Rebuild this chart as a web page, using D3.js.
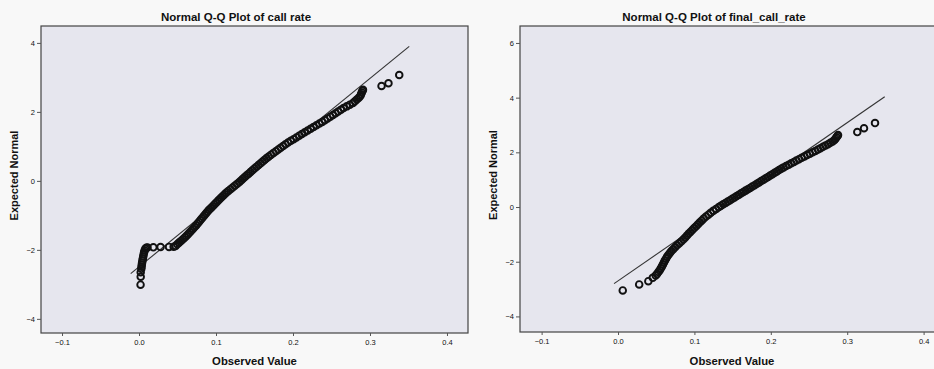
<!DOCTYPE html>
<html>
<head>
<meta charset="utf-8">
<script src="https://cdn.jsdelivr.net/npm/d3@7/dist/d3.min.js"></script>
<style>
  html, body { margin: 0; padding: 0; background: #f8f8f8; }
  svg { display: block; }
  text { font-family: "Liberation Sans", Arial, sans-serif; fill: #111; }
</style>
</head>
<body>
<svg id="chart" width="934" height="369"></svg>
<script>
// ---- Panel 1: call rate ----
const callRateObserved = [
  0.0020, 0.0022, 0.0022,
  0.0030, 0.0033, 0.0036, 0.0040, 0.0045, 0.0050, 0.0055, 0.0060, 0.0066, 0.0073, 0.0082, 0.0095, 0.0110,
  0.0186, 0.0280, 0.0390, 0.0450,
  0.0475, 0.0496, 0.0520, 0.0545, 0.0570, 0.0595, 0.0618, 0.0639, 0.0660, 0.0681, 0.0702,
  0.0722, 0.0741, 0.0759, 0.0778, 0.0796, 0.0815, 0.0834, 0.0853, 0.0872, 0.0891,
  0.0910, 0.0932, 0.0954, 0.0976, 0.0998, 0.1020, 0.1042, 0.1065, 0.1089, 0.1112, 0.1136,
  0.1160, 0.1188, 0.1216, 0.1244, 0.1272, 0.1300, 0.1325, 0.1349, 0.1374, 0.1399, 0.1424,
  0.1448, 0.1473, 0.1499, 0.1526, 0.1552, 0.1579, 0.1605, 0.1632, 0.1658, 0.1685,
  0.1715, 0.1746, 0.1778, 0.1809, 0.1840, 0.1872, 0.1903, 0.1936, 0.1972, 0.2008, 0.2044,
  0.2080, 0.2116, 0.2153, 0.2191, 0.2229, 0.2267, 0.2305, 0.2343, 0.2379, 0.2414, 0.2449,
  0.2484, 0.2519, 0.2553, 0.2587, 0.2622, 0.2657, 0.2698, 0.2738, 0.2779, 0.2804, 0.2829,
  0.2855, 0.2874, 0.2884, 0.2893, 0.2903, 0.2909,
  0.3150, 0.3240, 0.3380
];
const callRateExpected = [
  -3.01, -2.78, -2.65,
  -2.55, -2.49, -2.43, -2.37, -2.31, -2.25, -2.19, -2.13, -2.07, -2.02, -1.97, -1.94, -1.93,
  -1.925, -1.92, -1.915, -1.91,
  -1.89, -1.84, -1.79, -1.74, -1.69, -1.64, -1.59, -1.54, -1.49, -1.44, -1.39,
  -1.34, -1.29, -1.24, -1.19, -1.14, -1.09, -1.04, -0.99, -0.94, -0.89,
  -0.84, -0.79, -0.74, -0.69, -0.64, -0.59, -0.54, -0.49, -0.44, -0.39, -0.34,
  -0.29, -0.24, -0.19, -0.14, -0.09, -0.04, 0.01, 0.06, 0.11, 0.16, 0.21,
  0.26, 0.31, 0.36, 0.41, 0.46, 0.51, 0.56, 0.61, 0.66, 0.71,
  0.76, 0.81, 0.86, 0.91, 0.96, 1.01, 1.06, 1.11, 1.16, 1.21, 1.26,
  1.31, 1.36, 1.41, 1.46, 1.51, 1.56, 1.61, 1.66, 1.71, 1.76, 1.81,
  1.86, 1.91, 1.96, 2.01, 2.06, 2.11, 2.16, 2.21, 2.26, 2.31, 2.36,
  2.41, 2.46, 2.51, 2.56, 2.61, 2.64,
  2.75, 2.83, 3.07
];
// reference line endpoints (observed, expected)
const callRateLineObserved = [-0.0108, 0.351];
const callRateLineExpected = [-2.69, 3.90];

// ---- Panel 2: final_call_rate ----
const finalObserved = [
  0.0062, 0.0277, 0.0397, 0.0455, 0.0493,
  0.0510, 0.0529, 0.0546, 0.0561, 0.0576, 0.0588, 0.0601, 0.0613, 0.0628, 0.0642,
  0.0659, 0.0679, 0.0699, 0.0722, 0.0747, 0.0772, 0.0799, 0.0827, 0.0854, 0.0877,
  0.0900, 0.0923, 0.0947, 0.0972, 0.0997, 0.1022, 0.1047, 0.1072, 0.1097, 0.1122,
  0.1152, 0.1183, 0.1213, 0.1247, 0.1283, 0.1320,
  0.1347, 0.1377, 0.1407, 0.1437, 0.1467, 0.1496, 0.1525, 0.1554, 0.1583, 0.1612,
  0.1641, 0.1670, 0.1700, 0.1729, 0.1758, 0.1788, 0.1817, 0.1846, 0.1875, 0.1904,
  0.1934, 0.1963, 0.1992, 0.2021, 0.2050, 0.2079, 0.2108, 0.2137, 0.2167, 0.2200,
  0.2234, 0.2268, 0.2302, 0.2335, 0.2369, 0.2404, 0.2440, 0.2476, 0.2511, 0.2547,
  0.2583, 0.2618, 0.2650, 0.2683, 0.2716, 0.2749, 0.2779, 0.2809, 0.2833, 0.2846,
  0.2859, 0.2872, 0.2880,
  0.3132, 0.3220, 0.3364
];
const finalExpected = [
  -3.05, -2.83, -2.71, -2.59, -2.50,
  -2.45, -2.38, -2.31, -2.24, -2.17, -2.10, -2.03, -1.96, -1.89, -1.82,
  -1.75, -1.68, -1.61, -1.54, -1.47, -1.40, -1.33, -1.26, -1.19, -1.12,
  -1.05, -0.98, -0.91, -0.84, -0.77, -0.70, -0.63, -0.56, -0.49, -0.42,
  -0.35, -0.28, -0.21, -0.14, -0.07, 0.00,
  0.05, 0.10, 0.15, 0.20, 0.25, 0.30, 0.35, 0.40, 0.45, 0.50,
  0.55, 0.60, 0.65, 0.70, 0.75, 0.80, 0.85, 0.90, 0.95, 1.00,
  1.05, 1.10, 1.15, 1.20, 1.25, 1.30, 1.35, 1.40, 1.45, 1.50,
  1.55, 1.60, 1.65, 1.70, 1.75, 1.80, 1.85, 1.90, 1.95, 2.00,
  2.05, 2.10, 2.15, 2.20, 2.25, 2.30, 2.35, 2.40, 2.45, 2.50,
  2.55, 2.60, 2.63,
  2.74, 2.88, 3.07
];
const finalLineObserved = [-0.0052, 0.3491];
const finalLineExpected = [-2.80, 4.03];

// tick values
const xTicks = [-0.1, 0.0, 0.1, 0.2, 0.3, 0.4];
const yTicksLeft = [-4, -2, 0, 2, 4];
const yTicksRight = [-4, -2, 0, 2, 4, 6];

const titles = ["Normal Q-Q Plot of call rate", "Normal Q-Q Plot of final_call_rate"];
const xLabel = "Observed Value";
const yLabel = "Expected Normal";

const svg = d3.select("#chart");

const panels = [
  {
    title: titles[0],
    box: { left: 41, right: 468, top: 26, bottom: 333 },
    xDomain: [-0.1273, 0.4273], yDomain: [-4.41, 4.49],
    yTicks: yTicksLeft,
    obs: callRateObserved, exp: callRateExpected,
    lineObs: callRateLineObserved, lineExp: callRateLineExpected,
    yLabelX: 14, titleX: 236
  },
  {
    title: titles[1],
    box: { left: 520, right: 944, top: 26, bottom: 332 },
    xDomain: [-0.1283, 0.4267], yDomain: [-4.57, 6.62],
    yTicks: yTicksRight,
    obs: finalObserved, exp: finalExpected,
    lineObs: finalLineObserved, lineExp: finalLineExpected,
    yLabelX: 493, titleX: 714
  }
];

const fmtX = d3.format(".1f");

panels.forEach((p, i) => {
  const b = p.box;
  const x = d3.scaleLinear().domain(p.xDomain).range([b.left, b.right]);
  const y = d3.scaleLinear().domain(p.yDomain).range([b.bottom, b.top]);
  const g = svg.append("g");

  const clipId = "clip" + i;
  svg.append("clipPath").attr("id", clipId)
    .append("rect")
    .attr("x", b.left).attr("y", b.top)
    .attr("width", b.right - b.left).attr("height", b.bottom - b.top);

  // plot area
  g.append("rect")
    .attr("x", b.left).attr("y", b.top)
    .attr("width", b.right - b.left).attr("height", b.bottom - b.top)
    .attr("fill", "#e6e6ee");

  const plot = g.append("g").attr("clip-path", `url(#${clipId})`);

  // reference line
  plot.append("line")
    .attr("x1", x(p.lineObs[0])).attr("y1", y(p.lineExp[0]))
    .attr("x2", x(p.lineObs[1])).attr("y2", y(p.lineExp[1]))
    .attr("stroke", "#333")
    .attr("stroke-width", 1.1);

  // observations (hollow markers)
  plot.selectAll("circle")
    .data(p.obs.map((v, k) => ({ v, e: p.exp[k] })))
    .join("circle")
    .attr("cx", d => x(d.v))
    .attr("cy", d => y(d.e))
    .attr("r", 3.3)
    .attr("fill", "none")
    .attr("stroke", "#111")
    .attr("stroke-width", 1.9);

  // frame
  g.append("rect")
    .attr("x", b.left).attr("y", b.top)
    .attr("width", b.right - b.left).attr("height", b.bottom - b.top)
    .attr("fill", "none")
    .attr("stroke", "#444")
    .attr("stroke-width", 1.2);

  // axes
  const xAxis = d3.axisBottom(x).tickValues(xTicks).tickFormat(fmtX)
    .tickSizeInner(3).tickSizeOuter(0).tickPadding(4);
  const gx = g.append("g").attr("transform", `translate(0,${b.bottom})`).call(xAxis);
  gx.select(".domain").remove();

  const yAxis = d3.axisLeft(y).tickValues(p.yTicks).tickFormat(d3.format("d"))
    .tickSizeInner(4).tickSizeOuter(0).tickPadding(2);
  const gy = g.append("g").attr("transform", `translate(${b.left},0)`).call(yAxis);
  gy.select(".domain").remove();

  [gx, gy].forEach(a => {
    a.selectAll(".tick line").attr("stroke", "#555");
    a.selectAll(".tick text")
      .attr("font-size", 7.5)
      .attr("font-family", "Liberation Sans, Arial, sans-serif")
      .attr("fill", "#222");
  });

  // title
  g.append("text")
    .attr("x", p.titleX)
    .attr("y", 21)
    .attr("text-anchor", "middle")
    .attr("font-weight", "bold")
    .attr("font-size", 11.5)
    .text(p.title);

  // axis labels
  const cx = (b.left + b.right) / 2;
  g.append("text")
    .attr("x", cx).attr("y", 365)
    .attr("text-anchor", "middle")
    .attr("font-weight", "bold")
    .attr("font-size", 11.3)
    .text(xLabel);

  g.append("text")
    .attr("transform", `translate(${p.yLabelX},${(b.top + b.bottom) / 2 - 4}) rotate(-90)`)
    .attr("text-anchor", "middle")
    .attr("dy", "0.35em")
    .attr("font-weight", "bold")
    .attr("font-size", 11)
    .text(yLabel);
});
</script>
</body>
</html>
